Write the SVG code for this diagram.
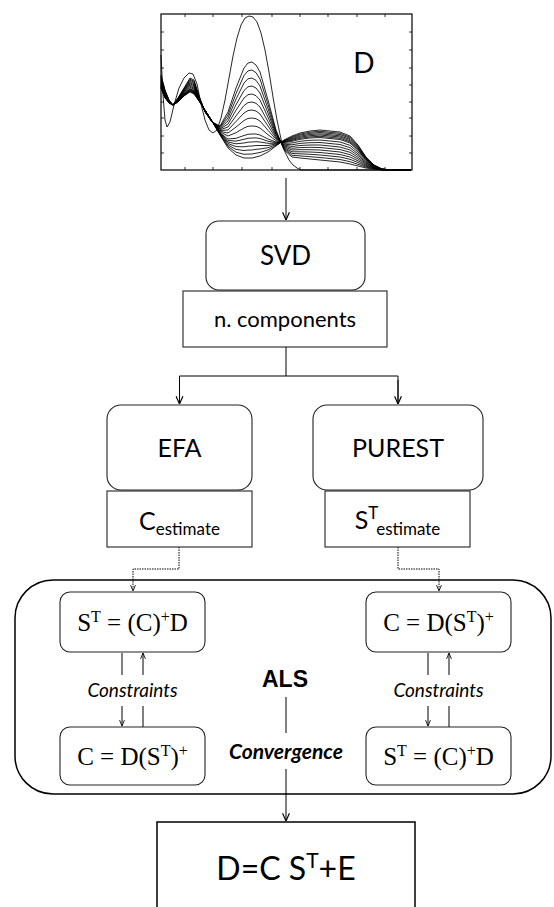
<svg xmlns="http://www.w3.org/2000/svg" width="554" height="907" viewBox="0 0 554 907">
<style>
.box{fill:#fff;stroke:#222;stroke-width:1.1}
.lab{font-family:Lato,"Liberation Sans",sans-serif;fill:#000;text-anchor:middle}
.f{font-family:"Liberation Serif",serif;font-size:25px;fill:#000;text-anchor:middle}
.sup{font-size:16px}
.con{font-family:Lato,"Liberation Sans",sans-serif;font-style:italic;font-size:19px;text-anchor:middle}
.ln{fill:none;stroke:#000;stroke-width:1}
.sp{fill:none;stroke:#000;stroke-width:0.85;stroke-linejoin:round}
.tk{stroke:#000;stroke-width:0.8}
</style>
<defs>
<marker id="ah" viewBox="0 0 10 10" refX="9.5" refY="5" markerWidth="9" markerHeight="9" markerUnits="userSpaceOnUse" orient="auto">
<path d="M1,1.2 L9.5,5 L1,8.8" fill="none" stroke="#000" stroke-width="1.3"/>
</marker>
<marker id="as" viewBox="0 0 10 10" refX="9.5" refY="5" markerWidth="7" markerHeight="7" markerUnits="userSpaceOnUse" orient="auto">
<path d="M1,1.5 L9.5,5 L1,8.5" fill="none" stroke="#000" stroke-width="1.2"/>
</marker>
</defs>
<rect width="554" height="907" fill="#fff"/>

<g id="plot">
<rect x="161" y="14" width="251" height="156" fill="#fff" stroke="#000" stroke-width="1.2"/>
<g class="tk">
<path d="M161,32h3M161,50h3M161,68h3M161,85h3M161,102h3M161,118h3M161,136h3M161,153h3"/>
<path d="M412,32h-3M412,50h-3M412,68h-3M412,85h-3M412,102h-3M412,118h-3M412,136h-3M412,153h-3"/>
<path d="M185,14v3M213,14v3M242,14v3M272,14v3M300,14v3M328,14v3M357,14v3M385,14v3"/>
<path d="M185,170v-3M213,170v-3M242,170v-3M272,170v-3M300,170v-3M328,170v-3M357,170v-3M385,170v-3"/>
</g>
<g class="sp">
<polyline points="161,55 163,95 165,120 167,127 170,122 174,105 179,88 184,78 189,73 193,74 197,84 201,104 205,120 209,130 213,133 217,130 221,118 225,100 229,78 233,56 237,38 241,25 245,18 249,16 253,17 257,22 261,33 265,50 269,72 273,97 277,120 281,139 285,152 289,160 293,165 297,168 301,170 411,170"/>
<polyline points="161,75 165,90 169,100 173,105 178,98 184,88 190,78 194,80 199,96 205,112 212,122 220,126 228,112 236,88 244,68 248,63 252,62 256,65 260,72 268,100 276,130 284,150 292,157 300,158 310,159 320,160 330,161 340,162 350,164 358,166 366,168 374,169 382,170 392,170 411,170"/>
<polyline points="161,76.1 165,90.7 169,100.3 173,105 178,98.3 184,88.7 190,79.2 194,81.2 199,96.4 205,111.8 212,121.9 220,126.8 228,115 236,93.6 244,75.5 248,70.9 252,70 256,72.7 260,79 268,104.3 276,131.3 284,149.2 292,155.3 300,155.9 310,156.7 320,157.5 330,158.5 340,159.5 350,161.7 358,164.3 366,167.1 374,168.7 382,169.9 392,170 411,170"/>
<polyline points="161,77.2 165,91.3 169,100.5 173,105 178,98.7 184,89.3 190,80.3 194,82.3 199,96.8 205,111.7 212,121.8 220,127.5 228,118 236,99.2 244,83 248,78.8 252,78 256,80.3 260,86 268,108.7 276,132.7 284,148.3 292,153.5 300,153.8 310,154.3 320,155 330,156 340,157 350,159.3 358,162.5 366,166.2 374,168.3 382,169.8 392,170 411,170"/>
<polyline points="161,78.2 165,92 169,100.8 173,105 178,99 184,90 190,81.5 194,83.5 199,97.3 205,111.5 212,121.8 220,128.3 228,121 236,104.8 244,90.5 248,86.8 252,86 256,88 260,93 268,113 276,134 284,147.5 292,151.8 300,151.8 310,152 320,152.5 330,153.5 340,154.5 350,157 358,160.8 366,165.3 374,168 382,169.8 392,170 411,170"/>
<polyline points="161,79.3 165,92.7 169,101 173,105 178,99.3 184,90.7 190,82.7 194,84.7 199,97.7 205,111.3 212,121.7 220,129 228,124 236,110.3 244,98 248,94.7 252,94 256,95.7 260,100 268,117.3 276,135.3 284,146.7 292,150 300,149.7 310,149.7 320,150 330,151 340,152 350,154.7 358,159 366,164.3 374,167.7 382,169.7 392,170 411,170"/>
<polyline points="161,80.4 165,93.3 169,101.3 173,105 178,99.7 184,91.3 190,83.8 194,85.8 199,98.1 205,111.2 212,121.6 220,129.8 228,127 236,115.9 244,105.5 248,102.6 252,102 256,103.3 260,107 268,121.7 276,136.7 284,145.8 292,148.3 300,147.6 310,147.3 320,147.5 330,148.5 340,149.5 350,152.3 358,157.3 366,163.4 374,167.3 382,169.6 392,170 411,170"/>
<polyline points="161,81.5 165,94 169,101.5 173,105 178,100 184,92 190,85 194,87 199,98.5 205,111 212,121.5 220,130.5 228,130 236,121.5 244,113 248,110.5 252,110 256,111 260,114 268,126 276,138 284,145 292,146.5 300,145.5 310,145 320,145 330,146 340,147 350,150 358,155.5 366,162.5 374,167 382,169.5 392,170 411,170"/>
<polyline points="161,82.6 165,94.7 169,101.8 173,105 178,100.3 184,92.7 190,86.2 194,88.2 199,98.9 205,110.8 212,121.4 220,131.3 228,133 236,127.1 244,120.5 248,118.4 252,118 256,118.7 260,121 268,130.3 276,139.3 284,144.2 292,144.8 300,143.4 310,142.7 320,142.5 330,143.5 340,144.5 350,147.7 358,153.8 366,161.6 374,166.7 382,169.4 392,170 411,170"/>
<polyline points="161,83.7 165,95.3 169,102 173,105 178,100.7 184,93.3 190,87.3 194,89.3 199,99.3 205,110.7 212,121.3 220,132 228,136 236,132.7 244,128 248,126.3 252,126 256,126.3 260,128 268,134.7 276,140.7 284,143.3 292,143 300,141.3 310,140.3 320,140 330,141 340,142 350,145.3 358,152 366,160.7 374,166.3 382,169.3 392,170 411,170"/>
<polyline points="161,84.7 165,96 169,102.3 173,105 178,101 184,94 190,88.5 194,90.5 199,99.8 205,110.5 212,121.3 220,132.8 228,139 236,138.3 244,135.5 248,134.3 252,134 256,134 260,135 268,139 276,142 284,142.5 292,141.3 300,139.3 310,138 320,137.5 330,138.5 340,139.5 350,143 358,150.3 366,159.8 374,166 382,169.3 392,170 411,170"/>
<polyline points="161,85.3 165,96.4 169,102.4 173,105 178,101.2 184,94.4 190,89.1 194,91.1 199,100 205,110.4 212,121.3 220,133.2 228,140.5 236,141.1 244,139.3 248,138.3 252,138 256,137.9 260,138.5 268,141.2 276,142.7 284,142.1 292,140.4 300,138.3 310,136.9 320,136.3 330,137.3 340,138.3 350,141.9 358,149.4 366,159.3 374,165.9 382,169.3 392,170 411,170"/>
<polyline points="161,85.8 165,96.7 169,102.5 173,105 178,101.3 184,94.7 190,89.7 194,91.7 199,100.2 205,110.3 212,121.2 220,133.5 228,142 236,143.8 244,143 248,142.2 252,142 256,141.7 260,142 268,143.3 276,143.3 284,141.7 292,139.5 300,137.2 310,135.7 320,135 330,136 340,137 350,140.7 358,148.5 366,158.8 374,165.7 382,169.2 392,170 411,170"/>
<polyline points="161,86.4 165,97 169,102.7 173,105 178,101.5 184,95 190,90.3 194,92.3 199,100.4 205,110.3 212,121.2 220,133.9 228,143.5 236,146.6 244,146.8 248,146.2 252,146 256,145.5 260,145.5 268,145.5 276,144 284,141.3 292,138.7 300,136.2 310,134.5 320,133.8 330,134.8 340,135.8 350,139.5 358,147.7 366,158.4 374,165.5 382,169.2 392,170 411,170"/>
<polyline points="161,86.9 165,97.3 169,102.8 173,105 178,101.7 184,95.3 190,90.8 194,92.8 199,100.6 205,110.2 212,121.1 220,134.3 228,145 236,149.4 244,150.5 248,150.1 252,150 256,149.3 260,149 268,147.7 276,144.7 284,140.8 292,137.8 300,135.1 310,133.3 320,132.5 330,133.5 340,134.5 350,138.3 358,146.8 366,157.9 374,165.3 382,169.1 392,170 411,170"/>
<polyline points="161,87.5 165,97.7 169,102.9 173,105 178,101.9 184,95.7 190,91.4 194,93.4 199,100.8 205,110.1 212,121.1 220,134.7 228,146.5 236,152.2 244,154.3 248,154.1 252,154 256,153.2 260,152.5 268,149.9 276,145.4 284,140.4 292,136.9 300,134.1 310,132.2 320,131.3 330,132.3 340,133.3 350,137.2 358,145.9 366,157.5 374,165.2 382,169.1 392,170 411,170"/>
<polyline points="161,88 165,98 169,103 173,105 178,102 184,96 190,92 194,94 199,101 205,110 212,121 220,135 228,148 236,155 244,158 248,158 252,158 256,157 260,156 268,152 276,146 284,140 292,136 300,133 310,131 320,130 330,131 340,132 350,136 358,145 366,157 374,165 382,169 392,170 411,170"/>
</g>
<text class="lab" x="364" y="73" font-size="28">D</text>
</g>

<g id="connectors">
<line class="ln" x1="286" y1="178" x2="286" y2="220" stroke-width="1.5" marker-end="url(#ah)"/>
<line class="ln" x1="286" y1="347" x2="286" y2="376" stroke-width="1.5"/>
<polyline class="ln" points="179.5,404 179.5,376 398,376 398,404" stroke-width="1.5"/>
<line class="ln" x1="179.5" y1="380" x2="179.5" y2="404" stroke-width="1.5" marker-end="url(#ah)"/>
<line class="ln" x1="398" y1="380" x2="398" y2="404" stroke-width="1.5" marker-end="url(#ah)"/>
<polyline class="ln" points="179,547 179,569 133,569 133,591" stroke-dasharray="1.5,1" marker-end="url(#as)"/>
<polyline class="ln" points="398,547 398,569 439,569 439,591" stroke-dasharray="1.5,1" marker-end="url(#as)"/>
<line class="ln" x1="122" y1="653" x2="122" y2="675"/>
<line class="ln" x1="143" y1="675" x2="143" y2="653" marker-end="url(#as)"/>
<line class="ln" x1="122" y1="706" x2="122" y2="726" marker-end="url(#as)"/>
<line class="ln" x1="143" y1="706" x2="143" y2="727"/>
<line class="ln" x1="428" y1="653" x2="428" y2="675"/>
<line class="ln" x1="449" y1="675" x2="449" y2="653" marker-end="url(#as)"/>
<line class="ln" x1="428" y1="706" x2="428" y2="726" marker-end="url(#as)"/>
<line class="ln" x1="449" y1="706" x2="449" y2="727"/>
<line class="ln" x1="286" y1="697" x2="286" y2="733"/>
<line class="ln" x1="286" y1="769" x2="286" y2="821" marker-end="url(#ah)"/>
</g>

<g id="svd">
<rect class="box" x="206" y="221" width="159" height="69" rx="13"/>
<text class="lab" x="285.5" y="265" font-size="26">SVD</text>
</g>
<g id="ncomp">
<rect class="box" x="183" y="291" width="204" height="56"/>
<text class="lab" x="285" y="327" font-size="22">n. components</text>
</g>
<g id="efa">
<rect class="box" x="107" y="405" width="145" height="85" rx="14"/>
<text class="lab" x="179.5" y="457" font-size="25">EFA</text>
</g>
<g id="purest">
<rect class="box" x="313" y="405" width="170" height="85" rx="14"/>
<text class="lab" x="398" y="457" font-size="25">PUREST</text>
</g>
<g id="cest">
<rect class="box" x="107" y="491" width="145" height="56"/>
<text class="lab" x="179.5" y="530" font-size="25">C<tspan font-size="17" dy="5">estimate</tspan></text>
</g>
<g id="sest">
<rect class="box" x="325" y="491" width="145" height="56"/>
<text class="lab" x="397.5" y="529" font-size="25">S<tspan font-size="17" dy="-10">T</tspan><tspan font-size="17" dy="16">estimate</tspan></text>
</g>

<g id="als">
<rect x="15" y="580" width="536" height="214" rx="38" fill="none" stroke="#000" stroke-width="1.5"/>
<text x="285" y="687" font-family="'Liberation Sans',Arial,sans-serif" font-weight="bold" font-size="23" text-anchor="middle">ALS</text>
<text x="286" y="759" font-family="Lato,'Liberation Sans',sans-serif" font-weight="bold" font-style="italic" font-size="21" text-anchor="middle">Convergence</text>
<text class="con" x="132.5" y="697">Constraints</text>
<text class="con" x="438.5" y="697">Constraints</text>
</g>
<g id="als-lt">
<rect class="box" x="60" y="592" width="145" height="60" rx="10"/>
<text class="f" x="132.5" y="631">S<tspan class="sup" dy="-9">T</tspan><tspan dy="9"> = (C)</tspan><tspan class="sup" dy="-9">+</tspan><tspan dy="9">D</tspan></text>
</g>
<g id="als-lb">
<rect class="box" x="60" y="727" width="145" height="58" rx="10"/>
<text class="f" x="132.5" y="765">C = D(S<tspan class="sup" dy="-9">T</tspan><tspan dy="9">)</tspan><tspan class="sup" dy="-9">+</tspan></text>
</g>
<g id="als-rt">
<rect class="box" x="366" y="592" width="145" height="60" rx="10"/>
<text class="f" x="438.5" y="631">C = D(S<tspan class="sup" dy="-9">T</tspan><tspan dy="9">)</tspan><tspan class="sup" dy="-9">+</tspan></text>
</g>
<g id="als-rb">
<rect class="box" x="366" y="727" width="145" height="58" rx="10"/>
<text class="f" x="438.5" y="765">S<tspan class="sup" dy="-9">T</tspan><tspan dy="9"> = (C)</tspan><tspan class="sup" dy="-9">+</tspan><tspan dy="9">D</tspan></text>
</g>

<g id="result">
<rect x="157" y="822" width="258" height="100" fill="#fff" stroke="#000" stroke-width="1.5"/>
<text class="lab" x="286" y="880" font-size="32">D=C S<tspan font-size="21" dy="-12">T</tspan><tspan dy="12">+E</tspan></text>
</g>
</svg>
